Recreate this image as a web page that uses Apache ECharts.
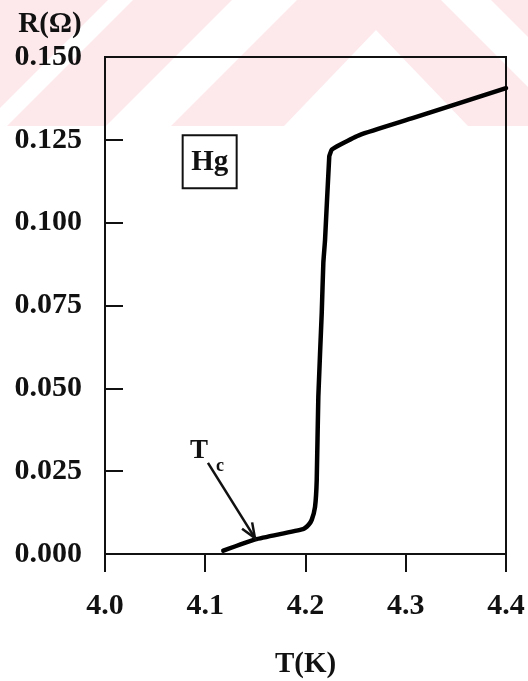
<!DOCTYPE html>
<html>
<head>
<meta charset="utf-8">
<script src="https://cdn.jsdelivr.net/npm/echarts@6/dist/echarts.min.js"></script>
<style>
  html, body { margin: 0; padding: 0; background: #ffffff; }
  #chart { width: 528px; height: 681px; }
</style>
</head>
<body>
<div id="chart"></div>
<script>
// Resistance of mercury near its superconducting transition
const temperatureK = [4.118, 4.150, 4.1975, 4.203, 4.2062, 4.2095, 4.2112, 4.2128, 4.2162, 4.2178, 4.2195, 4.2237, 4.2250, 4.2261, 4.2344, 4.2544, 4.3075, 4.4];
const resistanceOhm = [0.001, 0.0044, 0.0075, 0.0088, 0.0103, 0.0142, 0.0223, 0.0475, 0.0728, 0.0879, 0.0948, 0.120, 0.1212, 0.122, 0.1235, 0.1265, 0.1316, 0.1406];
const xTicks = [4.0, 4.1, 4.2, 4.3, 4.4];
const yTicks = [0.000, 0.025, 0.050, 0.075, 0.100, 0.125, 0.150];

// annotation anchors in data coordinates
const sampleLabel = 'Hg';
const sampleLabelAt = [4.1044, 0.1185];
const tcArrowFrom = [4.1027, 0.0275];
const tcArrowTo = [4.1496, 0.0048];

const FONT = '"Liberation Serif", "Times New Roman", serif';
const chart = echarts.init(document.getElementById('chart'), null, { renderer: 'canvas' });

const points = temperatureK.map((t, i) => [t, resistanceOhm[i]]);

// faint pink band with white stripes across the top of the page
const backdrop = [
  { type: 'rect', shape: { x: 0, y: 0, width: 528, height: 126 }, style: { fill: '#fde8ec' }, z: -20, silent: true },
  { type: 'polygon', shape: { points: [[108, 0], [133, 0], [7, 126], [-18, 126]] }, style: { fill: '#ffffff' }, z: -19, silent: true },
  { type: 'polygon', shape: { points: [[232, 0], [297, 0], [171, 126], [106, 126]] }, style: { fill: '#ffffff' }, z: -19, silent: true },
  { type: 'polygon', shape: { points: [[376, 30], [468, 126], [284, 126]] }, style: { fill: '#ffffff' }, z: -19, silent: true },
  { type: 'polygon', shape: { points: [[441, 0], [491, 0], [617, 126], [567, 126]] }, style: { fill: '#ffffff' }, z: -19, silent: true }
];

chart.setOption({
  animation: false,
  backgroundColor: 'transparent',
  grid: {
    left: 105, right: 22, top: 57, bottom: 127,
    outerBoundsMode: 'none', containLabel: false,
    show: true, borderColor: '#111', borderWidth: 2, backgroundColor: 'transparent'
  },
  xAxis: {
    type: 'value',
    min: xTicks[0], max: xTicks[xTicks.length - 1], interval: 0.1,
    name: 'T(K)', nameLocation: 'middle', nameGap: 96,
    nameTextStyle: { fontFamily: FONT, fontWeight: 'bold', fontSize: 29, color: '#111' },
    axisLine: { show: true, lineStyle: { color: '#111', width: 2 } },
    axisTick: { show: true, inside: false, length: 18, lineStyle: { color: '#111', width: 2 } },
    axisLabel: { margin: 37, fontFamily: FONT, fontWeight: 'bold', fontSize: 30, color: '#111',
      formatter: v => v.toFixed(1) },
    splitLine: { show: false }
  },
  yAxis: {
    type: 'value',
    min: yTicks[0], max: yTicks[yTicks.length - 1], interval: 0.025,
    name: 'R(Ω)', nameLocation: 'end', nameGap: 18,
    nameTextStyle: { fontFamily: FONT, fontWeight: 'bold', fontSize: 29, color: '#111',
      align: 'center', padding: [0, 110, 0, 0] },
    axisLine: { show: true, lineStyle: { color: '#111', width: 2 } },
    axisTick: { show: true, inside: true, length: 18, lineStyle: { color: '#111', width: 2 } },
    axisLabel: { margin: 23, fontFamily: FONT, fontWeight: 'bold', fontSize: 30, color: '#111',
      formatter: v => v.toFixed(3) },
    splitLine: { show: false }
  },
  graphic: backdrop,
  series: [{
    type: 'line',
    data: points,
    showSymbol: false,
    smooth: 0.15,
    lineStyle: { color: '#000', width: 4.5, cap: 'round', join: 'round' },
    z: 5
  }]
});

// annotations placed through the axes' own scales
function drawAnnotations() {
  const box = chart.convertToPixel({ gridIndex: 0 }, sampleLabelAt);
  const a0 = chart.convertToPixel({ gridIndex: 0 }, tcArrowFrom);
  const a1 = chart.convertToPixel({ gridIndex: 0 }, tcArrowTo);
  const ang = Math.atan2(a1[1] - a0[1], a1[0] - a0[0]);
  const headLen = 16, spread = 0.38;
  const w1 = [a1[0] - headLen * Math.cos(ang - spread), a1[1] - headLen * Math.sin(ang - spread)];
  const w2 = [a1[0] - headLen * Math.cos(ang + spread), a1[1] - headLen * Math.sin(ang + spread)];

  chart.setOption({
    graphic: backdrop.concat([
      { type: 'rect', shape: { x: box[0] - 27, y: box[1] - 26, width: 54, height: 53 },
        style: { fill: '#fff', stroke: '#111', lineWidth: 2 }, z: 10 },
      { type: 'text', x: box[0], y: box[1] + 1,
        style: { text: sampleLabel, font: 'bold 29px ' + FONT, fill: '#111', textAlign: 'center', textVerticalAlign: 'middle' }, z: 11 },
      { type: 'line', shape: { x1: a0[0], y1: a0[1], x2: a1[0], y2: a1[1] },
        style: { stroke: '#111', lineWidth: 2.5 }, z: 10 },
      { type: 'polyline', shape: { points: [w1, a1, w2] },
        style: { stroke: '#111', lineWidth: 2.5, fill: null, lineJoin: 'miter' }, z: 10 },
      { type: 'text', x: a0[0] - 9, y: a0[1] - 12,
        style: { text: 'T', font: 'bold 27px ' + FONT, fill: '#111', textAlign: 'center', textVerticalAlign: 'middle' }, z: 11 },
      { type: 'text', x: a0[0] + 12, y: a0[1] + 3,
        style: { text: 'c', font: 'bold 18px ' + FONT, fill: '#111', textAlign: 'center', textVerticalAlign: 'middle' }, z: 11 }
    ])
  });
}
drawAnnotations();
</script>
</body>
</html>
